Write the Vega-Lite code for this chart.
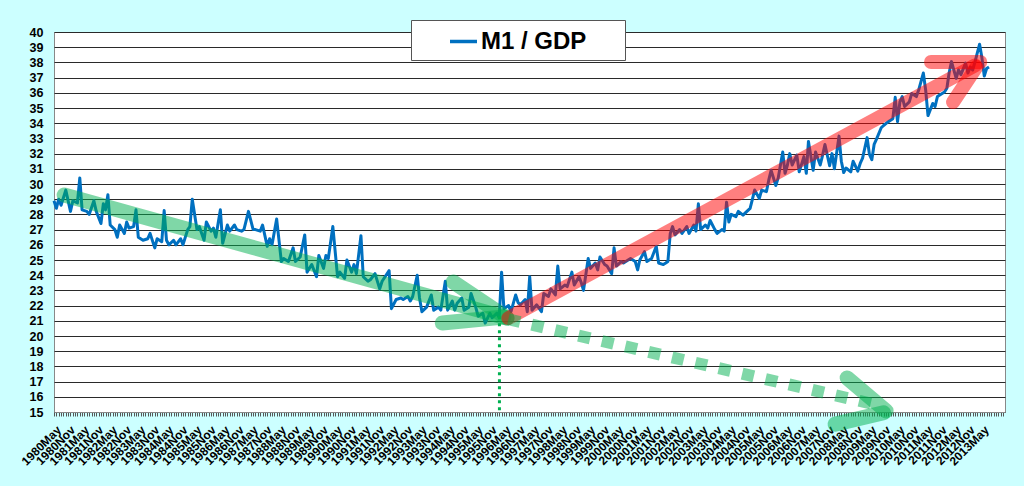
{
  "$schema": "https://vega.github.io/schema/vega-lite/v6.json",
  "width": 951,
  "height": 380,
  "autosize": "none",
  "padding": {"left": 54, "top": 32, "right": 19, "bottom": 74},
  "config": {
    "background": "#CCFFFF",
    "font": "Liberation Sans",
    "view": {"fill": "white", "stroke": "#888888", "strokeWidth": 1}
  },
  "datasets": {
    "series": [
      {"t":"1980-05-01","v":28.9},{"t":"1980-06-01","v":28.4},{"t":"1980-07-01","v":29.0},{"t":"1980-08-01","v":28.6},
      {"t":"1980-10-01","v":29.6},{"t":"1980-12-01","v":28.2},{"t":"1981-01-01","v":28.9},{"t":"1981-03-01","v":28.75},
      {"t":"1981-04-01","v":30.4},{"t":"1981-05-01","v":28.3},{"t":"1981-07-01","v":28.2},{"t":"1981-08-01","v":28.0},
      {"t":"1981-10-01","v":28.9},{"t":"1981-11-01","v":28.2},{"t":"1982-01-01","v":27.4},{"t":"1982-02-01","v":28.7},
      {"t":"1982-03-01","v":28.3},{"t":"1982-04-01","v":29.3},{"t":"1982-05-01","v":27.3},{"t":"1982-07-01","v":27.0},
      {"t":"1982-08-01","v":26.5},{"t":"1982-09-01","v":27.3},{"t":"1982-11-01","v":26.75},{"t":"1982-12-01","v":27.5},
      {"t":"1983-01-01","v":27.1},{"t":"1983-03-01","v":27.2},{"t":"1983-04-01","v":28.3},{"t":"1983-05-01","v":26.5},
      {"t":"1983-07-01","v":26.3},{"t":"1983-09-01","v":26.4},{"t":"1983-10-01","v":26.75},{"t":"1983-12-01","v":25.8},
      {"t":"1984-01-01","v":26.4},{"t":"1984-03-01","v":26.2},{"t":"1984-04-01","v":28.25},{"t":"1984-05-01","v":26.3},
      {"t":"1984-06-01","v":26.0},{"t":"1984-08-01","v":26.3},{"t":"1984-09-01","v":26.0},{"t":"1984-11-01","v":26.4},
      {"t":"1984-12-01","v":26.0},{"t":"1985-02-01","v":27.0},{"t":"1985-03-01","v":27.2},{"t":"1985-04-01","v":29.0},
      {"t":"1985-06-01","v":27.0},{"t":"1985-07-01","v":27.2},{"t":"1985-09-01","v":26.3},{"t":"1985-10-01","v":27.5},
      {"t":"1985-12-01","v":26.9},{"t":"1986-01-01","v":27.1},{"t":"1986-02-01","v":26.5},{"t":"1986-04-01","v":28.3},
      {"t":"1986-05-01","v":26.1},{"t":"1986-07-01","v":27.3},{"t":"1986-08-01","v":26.9},{"t":"1986-10-01","v":27.3},
      {"t":"1986-11-01","v":27.0},{"t":"1987-01-01","v":26.9},{"t":"1987-02-01","v":27.0},{"t":"1987-04-01","v":28.2},
      {"t":"1987-06-01","v":27.0},{"t":"1987-07-01","v":27.0},{"t":"1987-09-01","v":26.9},{"t":"1987-10-01","v":27.3},
      {"t":"1987-12-01","v":25.9},{"t":"1988-01-01","v":26.4},{"t":"1988-02-01","v":26.0},{"t":"1988-04-01","v":27.7},
      {"t":"1988-06-01","v":24.9},{"t":"1988-07-01","v":25.1},{"t":"1988-09-01","v":24.9},{"t":"1988-11-01","v":25.8},
      {"t":"1988-12-01","v":24.9},{"t":"1989-02-01","v":25.2},{"t":"1989-04-01","v":26.65},{"t":"1989-05-01","v":24.2},
      {"t":"1989-07-01","v":24.7},{"t":"1989-09-01","v":23.9},{"t":"1989-10-01","v":25.3},{"t":"1989-12-01","v":24.45},
      {"t":"1990-01-01","v":25.3},{"t":"1990-02-01","v":25.1},{"t":"1990-04-01","v":27.2},{"t":"1990-06-01","v":23.9},
      {"t":"1990-07-01","v":24.2},{"t":"1990-09-01","v":23.8},{"t":"1990-10-01","v":25.0},{"t":"1990-12-01","v":24.2},
      {"t":"1991-01-01","v":24.7},{"t":"1991-02-01","v":24.1},{"t":"1991-04-01","v":26.6},{"t":"1991-05-01","v":23.9},
      {"t":"1991-07-01","v":23.6},{"t":"1991-08-01","v":23.7},{"t":"1991-10-01","v":24.1},{"t":"1991-12-01","v":23.1},
      {"t":"1992-01-01","v":23.6},{"t":"1992-04-01","v":24.3},{"t":"1992-05-01","v":21.8},{"t":"1992-07-01","v":22.4},
      {"t":"1992-09-01","v":22.5},{"t":"1992-10-01","v":22.4},{"t":"1992-12-01","v":22.6},{"t":"1993-01-01","v":22.3},
      {"t":"1993-02-01","v":22.6},{"t":"1993-04-01","v":24.0},{"t":"1993-05-01","v":22.5},{"t":"1993-06-01","v":21.6},
      {"t":"1993-08-01","v":21.9},{"t":"1993-10-01","v":22.7},{"t":"1993-11-01","v":21.7},{"t":"1994-01-01","v":21.9},
      {"t":"1994-02-01","v":21.7},{"t":"1994-04-01","v":23.6},{"t":"1994-05-01","v":21.7},{"t":"1994-07-01","v":22.3},
      {"t":"1994-08-01","v":21.7},{"t":"1994-09-01","v":22.15},{"t":"1994-11-01","v":22.5},{"t":"1994-12-01","v":21.7},
      {"t":"1995-02-01","v":21.9},{"t":"1995-03-01","v":22.8},{"t":"1995-05-01","v":21.9},{"t":"1995-06-01","v":21.3},
      {"t":"1995-08-01","v":21.5},{"t":"1995-09-01","v":20.85},{"t":"1995-11-01","v":21.5},{"t":"1995-12-01","v":21.2},
      {"t":"1996-02-01","v":21.5},{"t":"1996-03-01","v":21.2},{"t":"1996-04-01","v":24.2},{"t":"1996-05-01","v":21.8},
      {"t":"1996-07-01","v":22.0},{"t":"1996-08-01","v":21.6},{"t":"1996-10-01","v":22.7},{"t":"1996-11-01","v":22.2},
      {"t":"1996-12-01","v":22.05},{"t":"1997-02-01","v":22.4},{"t":"1997-03-01","v":21.6},{"t":"1997-04-01","v":23.9},
      {"t":"1997-05-01","v":21.7},{"t":"1997-07-01","v":22.05},{"t":"1997-09-01","v":21.6},{"t":"1997-10-01","v":22.8},
      {"t":"1997-12-01","v":22.6},{"t":"1998-01-01","v":23.1},{"t":"1998-03-01","v":22.7},{"t":"1998-04-01","v":24.6},
      {"t":"1998-05-01","v":23.1},{"t":"1998-07-01","v":23.35},{"t":"1998-08-01","v":23.25},{"t":"1998-10-01","v":24.2},
      {"t":"1998-11-01","v":23.35},{"t":"1999-01-01","v":23.9},{"t":"1999-02-01","v":23.5},{"t":"1999-03-01","v":23.0},
      {"t":"1999-05-01","v":25.1},{"t":"1999-06-01","v":24.45},{"t":"1999-08-01","v":24.8},{"t":"1999-09-01","v":24.35},
      {"t":"1999-10-01","v":25.2},{"t":"1999-12-01","v":24.7},{"t":"2000-01-01","v":24.6},{"t":"2000-03-01","v":24.1},
      {"t":"2000-04-01","v":25.8},{"t":"2000-05-01","v":24.6},{"t":"2000-07-01","v":24.9},{"t":"2000-08-01","v":24.8},
      {"t":"2000-10-01","v":25.0},{"t":"2000-11-01","v":25.1},{"t":"2001-01-01","v":24.9},{"t":"2001-02-01","v":24.35},
      {"t":"2001-03-01","v":25.0},{"t":"2001-05-01","v":25.55},{"t":"2001-06-01","v":24.9},{"t":"2001-08-01","v":25.1},
      {"t":"2001-10-01","v":25.9},{"t":"2001-11-01","v":24.8},{"t":"2002-01-01","v":24.7},{"t":"2002-02-01","v":24.8},
      {"t":"2002-03-01","v":24.9},{"t":"2002-04-01","v":26.75},{"t":"2002-05-01","v":27.2},{"t":"2002-06-01","v":26.65},
      {"t":"2002-08-01","v":27.0},{"t":"2002-09-01","v":26.75},{"t":"2002-11-01","v":27.2},{"t":"2002-12-01","v":26.75},
      {"t":"2003-02-01","v":27.3},{"t":"2003-03-01","v":26.9},{"t":"2003-04-01","v":28.7},{"t":"2003-05-01","v":27.0},
      {"t":"2003-07-01","v":27.3},{"t":"2003-08-01","v":27.1},{"t":"2003-09-01","v":27.6},{"t":"2003-11-01","v":27.0},
      {"t":"2003-12-01","v":26.75},{"t":"2004-02-01","v":27.0},{"t":"2004-03-01","v":26.9},{"t":"2004-04-01","v":28.8},
      {"t":"2004-05-01","v":27.5},{"t":"2004-06-01","v":28.0},{"t":"2004-08-01","v":27.85},{"t":"2004-09-01","v":28.2},
      {"t":"2004-11-01","v":27.95},{"t":"2004-12-01","v":28.1},{"t":"2005-02-01","v":28.4},{"t":"2005-03-01","v":28.95},
      {"t":"2005-04-01","v":29.6},{"t":"2005-06-01","v":29.05},{"t":"2005-07-01","v":29.6},{"t":"2005-09-01","v":29.5},
      {"t":"2005-10-01","v":30.25},{"t":"2005-11-01","v":30.9},{"t":"2006-01-01","v":29.9},{"t":"2006-02-01","v":30.4},
      {"t":"2006-04-01","v":32.1},{"t":"2006-05-01","v":30.7},{"t":"2006-06-01","v":31.25},{"t":"2006-07-01","v":32.0},
      {"t":"2006-08-01","v":31.25},{"t":"2006-10-01","v":31.9},{"t":"2006-11-01","v":30.8},{"t":"2007-01-01","v":31.8},
      {"t":"2007-02-01","v":30.7},{"t":"2007-03-01","v":32.8},{"t":"2007-05-01","v":30.9},{"t":"2007-06-01","v":32.1},
      {"t":"2007-08-01","v":31.25},{"t":"2007-09-01","v":31.9},{"t":"2007-10-01","v":32.6},{"t":"2007-12-01","v":31.2},
      {"t":"2008-01-01","v":32.0},{"t":"2008-02-01","v":31.0},{"t":"2008-04-01","v":33.15},{"t":"2008-05-01","v":31.5},
      {"t":"2008-06-01","v":30.75},{"t":"2008-07-01","v":31.05},{"t":"2008-09-01","v":30.8},{"t":"2008-10-01","v":31.5},
      {"t":"2008-12-01","v":30.85},{"t":"2009-01-01","v":31.35},{"t":"2009-02-01","v":31.7},{"t":"2009-04-01","v":33.05},
      {"t":"2009-05-01","v":31.95},{"t":"2009-06-01","v":31.6},{"t":"2009-07-01","v":32.6},{"t":"2009-08-01","v":32.95},
      {"t":"2009-10-01","v":33.7},{"t":"2009-11-01","v":33.85},{"t":"2010-01-01","v":34.1},{"t":"2010-03-01","v":34.3},
      {"t":"2010-04-01","v":35.7},{"t":"2010-05-01","v":34.1},{"t":"2010-06-01","v":35.4},{"t":"2010-07-01","v":35.75},
      {"t":"2010-08-01","v":35.1},{"t":"2010-10-01","v":35.4},{"t":"2010-11-01","v":35.95},{"t":"2011-01-01","v":35.75},
      {"t":"2011-02-01","v":36.2},{"t":"2011-04-01","v":37.3},{"t":"2011-05-01","v":36.2},{"t":"2011-06-01","v":34.5},
      {"t":"2011-08-01","v":35.3},{"t":"2011-09-01","v":35.1},{"t":"2011-10-01","v":35.75},{"t":"2011-11-01","v":35.85},
      {"t":"2012-01-01","v":36.05},{"t":"2012-02-01","v":36.3},{"t":"2012-03-01","v":37.3},{"t":"2012-04-01","v":38.05},
      {"t":"2012-06-01","v":36.95},{"t":"2012-07-01","v":37.5},{"t":"2012-08-01","v":37.2},{"t":"2012-10-01","v":37.95},
      {"t":"2012-11-01","v":37.3},{"t":"2012-12-01","v":37.7},{"t":"2013-01-01","v":37.5},{"t":"2013-02-01","v":38.05},
      {"t":"2013-04-01","v":39.2},{"t":"2013-05-01","v":38.3},{"t":"2013-06-01","v":37.1},{"t":"2013-07-01","v":37.6},
      {"t":"2013-08-01","v":37.7}
    ],
    "arrows": [
      {"kind":"green","t1":"1980-09-10","v1":29.28,"t2":"1996-06-10","v2":21.18},
      {"kind":"green","t1":"1994-07-12","v1":23.55,"t2":"1996-06-10","v2":21.18},
      {"kind":"green","t1":"1994-02-21","v1":20.86,"t2":"1996-05-01","v2":21.25},
      {"kind":"red","t1":"1996-06-28","v1":21.18,"t2":"2013-02-01","v2":37.8},
      {"kind":"red","t1":"2011-07-10","v1":38.03,"t2":"2013-04-10","v2":38.03},
      {"kind":"red","t1":"2012-04-21","v1":35.39,"t2":"2013-02-20","v2":37.7},
      {"kind":"dash","t1":"1996-06-28","v1":21.1,"t2":"2009-10-01","v2":15.4},
      {"kind":"green","t1":"2008-07-16","v1":17.24,"t2":"2009-12-04","v2":15.07},
      {"kind":"green","t1":"2008-02-10","v1":14.2,"t2":"2009-11-01","v2":14.95},
      {"kind":"vline","t1":"1996-03-04","v1":21.3,"t2":"1996-03-04","v2":15}
    ]
  },
  "layer": [
    {
      "data": {"name": "series"},
      "mark": {"type": "line", "strokeWidth": 3, "strokeJoin": "round"},
      "encoding": {
        "x": {
          "field": "t",
          "type": "temporal",
          "scale": {
            "type": "utc",
            "nice": false,
            "domain": [
              {"year": 1980, "month": 5, "date": 1, "utc": true},
              {"year": 2014, "month": 2, "date": 25, "utc": true}
            ]
          },
          "axis": {
            "title": null,
            "grid": false,
            "tickCount": {"interval": "month", "step": 1},
            "labelExpr": "(utcmonth(datum.value) == 4 || utcmonth(datum.value) == 10) && datum.value < utc(2013, 5, 1) ? utcFormat(datum.value, '%Y%b') : ''",
            "labelAngle": -45,
            "labelAlign": "right",
            "labelBaseline": "top",
            "labelPadding": 8,
            "labelOffset": 1,
            "labelOverlap": false,
            "labelBound": false,
            "labelFlush": false,
            "labelFontSize": 12,
            "labelFontWeight": "bold",
            "labelColor": "black",
            "tickSize": 4,
            "tickColor": "#555555",
            "domainColor": "#888888"
          }
        },
        "y": {
          "field": "v",
          "type": "quantitative",
          "scale": {"domain": [15, 40], "nice": false, "zero": false},
          "axis": {
            "title": null,
            "values": [15,16,17,18,19,20,21,22,23,24,25,26,27,28,29,30,31,32,33,34,35,36,37,38,39,40],
            "tickCount": 30,
            "labelOverlap": false,
            "grid": true,
            "gridColor": "#2a2a2a",
            "gridWidth": 1,
            "domain": false,
            "ticks": false,
            "labelPadding": 11,
            "labelFontSize": 12.5,
            "labelFontWeight": "bold",
            "labelColor": "black"
          }
        },
        "color": {
          "datum": "M1 / GDP",
          "type": "nominal",
          "scale": {"range": ["#0070C0"]},
          "legend": {
            "title": "\u2800",
            "titleOrient": "right",
            "titlePadding": 32,
            "titleFontSize": 2,
            "orient": "none",
            "legendX": 357,
            "legendY": -12,
            "fillColor": "white",
            "strokeColor": "#555555",
            "padding": 6,
            "symbolType": "stroke",
            "symbolSize": 729,
            "symbolStrokeWidth": 3.5,
            "symbolOffset": 31,
            "labelOffset": 2,
            "labelFontSize": 24,
            "labelFontWeight": "bold",
            "labelColor": "black"
          }
        }
      }
    },
    {
      "data": {"name": "arrows"},
      "transform": [{"filter": "datum.kind == 'green'"}],
      "mark": {"type": "rule", "color": "#00B050", "opacity": 0.5, "strokeWidth": 15, "strokeCap": "round"},
      "encoding": {
        "x": {"field": "t1", "type": "temporal"},
        "x2": {"field": "t2"},
        "y": {"field": "v1", "type": "quantitative"},
        "y2": {"field": "v2"}
      }
    },
    {
      "data": {"name": "arrows"},
      "transform": [{"filter": "datum.kind == 'red'"}],
      "mark": {"type": "rule", "color": "#FF0000", "opacity": 0.5, "strokeWidth": 14, "strokeCap": "round"},
      "encoding": {
        "x": {"field": "t1", "type": "temporal"},
        "x2": {"field": "t2"},
        "y": {"field": "v1", "type": "quantitative"},
        "y2": {"field": "v2"}
      }
    },
    {
      "data": {"name": "arrows"},
      "transform": [{"filter": "datum.kind == 'dash'"}],
      "mark": {"type": "rule", "color": "#00B050", "opacity": 0.5, "strokeWidth": 12, "strokeCap": "butt", "strokeDash": [12, 12]},
      "encoding": {
        "x": {"field": "t1", "type": "temporal"},
        "x2": {"field": "t2"},
        "y": {"field": "v1", "type": "quantitative"},
        "y2": {"field": "v2"}
      }
    },
    {
      "data": {"name": "arrows"},
      "transform": [{"filter": "datum.kind == 'vline'"}],
      "mark": {"type": "rule", "color": "#00B050", "strokeWidth": 3, "strokeDash": [3, 4]},
      "encoding": {
        "x": {"field": "t1", "type": "temporal"},
        "x2": {"field": "t2"},
        "y": {"field": "v1", "type": "quantitative"},
        "y2": {"field": "v2"}
      }
    }
  ]
}
